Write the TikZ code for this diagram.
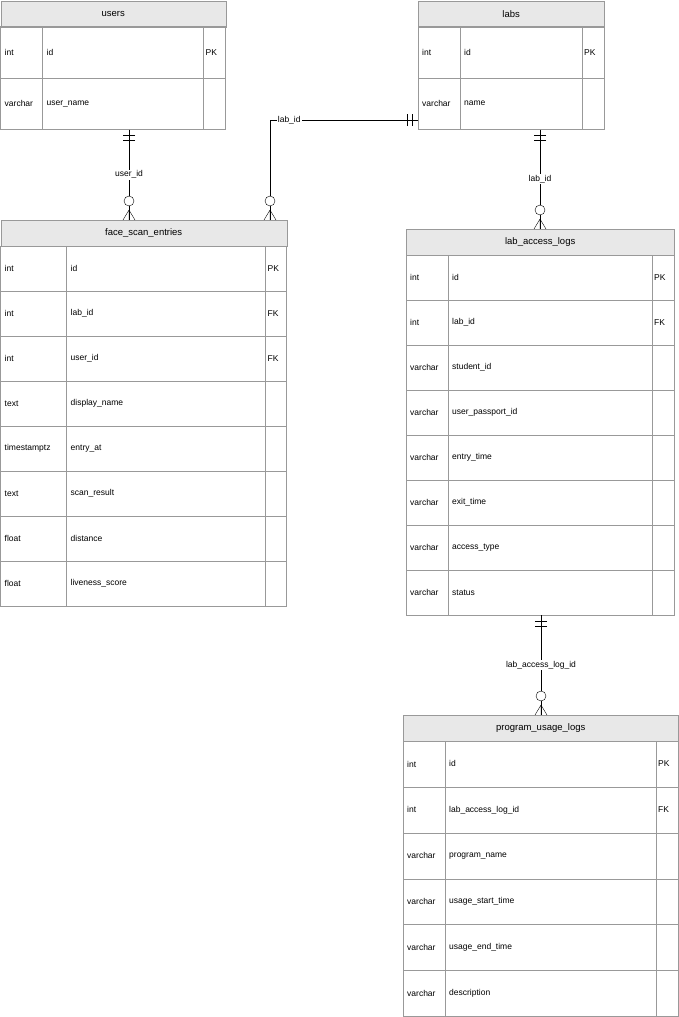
\documentclass[tikz,border=0pt]{standalone}
\usepackage{fontspec}
\setmainfont{Liberation Sans}
\usepackage{tikz}

\tikzset{
	hdr/.style={draw=gray!80, fill=gray!18, anchor=north west, inner sep=0pt, font=\fontsize{9.5}{11}\selectfont},
	cell/.style={anchor=west, inner sep=0pt, font=\fontsize{8.5}{10}\selectfont},
	lbl/.style={fill=white, inner sep=1pt, font=\fontsize{8.5}{10}\selectfont},
}

% name, x, y, width, col 1, col 2, row height, title, rows
\newcommand{\erTable}[9]{
	\node[hdr, minimum width=#4, minimum height=26] (#1) at (#2, #3) {#8};
	\foreach \ty/\nm/\key [count=\i] in {#9} {
		\pgfmathsetmacro{\tp}{#3 + 26 + (\i - 1) * #7}
		\draw[gray!80] (#2, \tp) rectangle ++(#4, #7);
		\draw[gray!80] (#2 + #5, \tp) -- ++(0, #7);
		\draw[gray!80] (#2 + #6, \tp) -- ++(0, #7);
		\node[cell] at (#2 + 4, \tp + #7/2) {\ty};
		\node[cell] at (#2 + #5 + 4, \tp + #7/2) {\nm};
		\node[cell] at (#2 + #6 + 2, \tp + #7/2) {\key};
	}
}

\newcommand{\mandOne}[2]{
	\begin{scope}[shift={#1}, rotate=#2]
		\draw (6, -6) -- (6, 6) (11, -6) -- (11, 6);
	\end{scope}
}
\newcommand{\zeroMany}[2]{
	\begin{scope}[shift={#1}, rotate=#2]
		\draw (10, 0) -- (0, -6) (10, 0) -- (0, 0) (10, 0) -- (0, 6);
		\draw[fill=white] (19, 0) circle (5);
	\end{scope}
}

\begin{document}
\begin{tikzpicture}[x=1pt, y=-1pt]
\useasboundingbox (0, 0) rectangle (679, 1017);

\erTable{users}{0.5}{0.5}{225}{42}{203}{51.5}{users}{int/id/PK, varchar/user\_name/}
\erTable{labs}{418}{0.5}{186}{42}{164}{51.5}{labs}{int/id/PK, varchar/name/}
\erTable{face}{0.5}{220}{286}{66}{265}{45}{face\_scan\_entries}{int/id/PK, int/lab\_id/FK, int/user\_id/FK, text/display\_name/, timestamptz/entry\_at/, text/scan\_result/, float/distance/, float/liveness\_score/}
\erTable{access}{406}{229}{268}{42}{246}{45}{lab\_access\_logs}{int/id/PK, int/lab\_id/FK, varchar/student\_id/, varchar/user\_passport\_id/, varchar/entry\_time/, varchar/exit\_time/, varchar/access\_type/, varchar/status/}
\erTable{usage}{403}{715}{275}{42}{253}{45.9}{program\_usage\_logs}{int/id/PK, int/lab\_access\_log\_id/FK, varchar/program\_name/, varchar/usage\_start\_time/, varchar/usage\_end\_time/, varchar/description/}

% connector ends
\coordinate (u-out) at (129, 129.5);
\coordinate (f-in1) at (129, 220);
\coordinate (l-out) at (418, 120);
\coordinate (f-in2) at (270, 220);
\coordinate (l-out2) at (540, 129.5);
\coordinate (a-in) at (540, 229);
\coordinate (a-out) at (541, 615);
\coordinate (p-in) at (541, 715);

\draw (u-out) -- node[lbl] {user\_id} (f-in1);
\draw (l-out) -- node[lbl, pos=0.87] {lab\_id} (270, 120) -- (f-in2);
\draw (l-out2) -- node[lbl] {lab\_id} (a-in);
\draw (a-out) -- node[lbl] {lab\_access\_log\_id} (p-in);

\mandOne{(u-out)}{-90}
\zeroMany{(f-in1)}{90}
\mandOne{(l-out)}{180}
\zeroMany{(f-in2)}{90}
\mandOne{(l-out2)}{-90}
\zeroMany{(a-in)}{90}
\mandOne{(a-out)}{-90}
\zeroMany{(p-in)}{90}

\end{tikzpicture}
\end{document}
